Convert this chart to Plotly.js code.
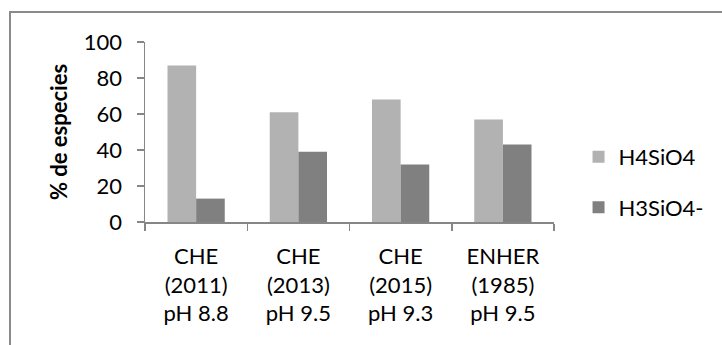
<!DOCTYPE html>
<html>
<head>
<meta charset="utf-8">
<script src="https://cdn.plot.ly/plotly-3.0.1.min.js"></script>
<style>
  html, body { margin: 0; padding: 0; background: #ffffff; }
  #wrap { position: relative; width: 722px; height: 345px; overflow: hidden; }
  #chart { position: absolute; left: 0; top: 0; width: 722px; height: 345px; }
  #frame {
    position: absolute; left: 9px; top: 11px; width: 730px; height: 350px;
    border-left: 2px solid #8a8a8a; border-top: 2px solid #8a8a8a;
    pointer-events: none;
  }
</style>
</head>
<body>
<div id="wrap">
  <div id="chart"></div>
  <div id="frame"></div>
</div>
<script>
// Sample sources: data set, year and pH
const categories = [
  'CHE<br>(2011)<br>pH 8.8',
  'CHE<br>(2013)<br>pH 9.5',
  'CHE<br>(2015)<br>pH 9.3',
  'ENHER<br>(1985)<br>pH 9.5'
];

// Share of each silica species (%)
const h4sio4 = [87, 61, 68, 57];
const h3sio4 = [13, 39, 32, 43];

const seriesNames = ['H4SiO4', 'H3SiO4-'];
const yTicks = [0, 20, 40, 60, 80, 100];

const fontFamily = 'Lato, "Open Sans", "Liberation Sans", sans-serif';
const textSize = 22;

const traces = [
  {
    type: 'bar', name: seriesNames[0], legendgroup: 'a',
    x: categories, y: h4sio4,
    marker: { color: '#b2b2b2', line: { width: 0 } },
    hoverinfo: 'skip'
  },
  {
    type: 'bar', name: seriesNames[1], legendgroup: 'b',
    x: categories, y: h3sio4,
    marker: { color: '#808080', line: { width: 0 } },
    hoverinfo: 'skip'
  }
];

const layout = {
  width: 722, height: 345,
  margin: { l: 145, r: 162, t: 42, b: 123, pad: 0 },
  paper_bgcolor: '#ffffff', plot_bgcolor: '#ffffff',
  font: { family: fontFamily, size: textSize, color: '#000000' },
  barmode: 'group', bargap: 0.44, bargroupgap: 0,
  showlegend: true,
  legend: {
    x: 1.06, xanchor: 'left', y: 0.22, yanchor: 'middle',
    traceorder: 'grouped', tracegroupgap: 19,
    font: { family: fontFamily, size: textSize, color: '#000000' },
    bgcolor: 'rgba(0,0,0,0)'
  },
  xaxis: {
    type: 'category',
    showline: true, linecolor: '#868686', linewidth: 1.5,
    ticks: 'outside', tickson: 'boundaries', ticklen: 7,
    tickcolor: '#868686', tickwidth: 1.5,
    showgrid: false, zeroline: false,
    tickfont: { family: fontFamily, size: textSize, color: '#000000' },
    ticklabelstandoff: 14
  },
  yaxis: {
    range: [0, 100], tickvals: yTicks,
    showline: true, linecolor: '#868686', linewidth: 1.5,
    ticks: 'outside', ticklen: 7, tickcolor: '#868686', tickwidth: 1.5,
    showgrid: false, zeroline: false,
    tickfont: { family: fontFamily, size: textSize, color: '#000000' },
    ticklabelstandoff: 10,
    title: {
      text: '<b>% de especies</b>',
      font: { family: fontFamily, size: 22, color: '#000000' },
      standoff: 10
    }
  }
};

Plotly.newPlot('chart', traces, layout, { staticPlot: true, displayModeBar: false });
</script>
</body>
</html>
